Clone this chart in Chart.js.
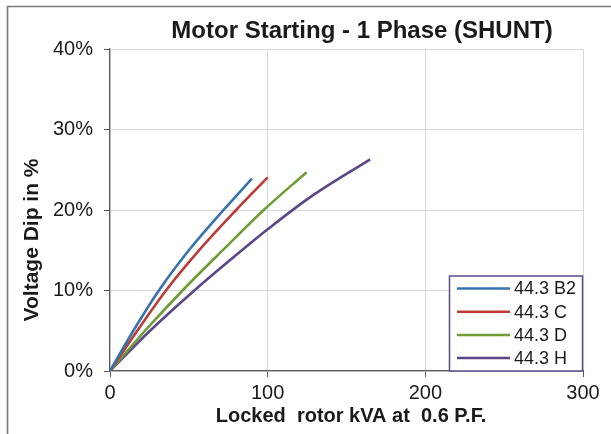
<!DOCTYPE html>
<html>
<head>
<meta charset="utf-8">
<script src="https://cdn.jsdelivr.net/npm/chart.js@4.4.1/dist/chart.umd.min.js"></script>
<style>
  html, body { margin: 0; padding: 0; background: #fff; }
  #wrap { width: 611px; height: 434px; position: relative; }
</style>
</head>
<body>
<div id="wrap"><canvas id="dipChart" width="611" height="434"></canvas></div>
<script>
// Locked rotor kVA (x) and voltage dip in % (y)
const seriesNames = ["44.3 B2", "44.3 C", "44.3 D", "44.3 H"];
const kvaB2 = [0, 14.8, 31, 50, 72, 90];
const dipB2 = [0, 5, 10, 15.0, 20, 23.9];
const kvaC = [0, 17.3, 35.5, 57, 80, 100];
const dipC = [0, 5, 10, 15.1, 20, 24.05];
const kvaD = [0, 22.2, 46, 72, 97.5, 124.7];
const dipD = [0, 5, 10, 15.1, 20, 24.7];
const kvaH = [0, 25.4, 53.5, 80, 100, 127, 165];
const dipH = [0, 5, 10, 14.4, 17.6, 21.6, 26.3];
const lineColors = ["#3473af", "#bd3a35", "#6f9d35", "#5b4787"];

const chartTitle = "Motor Starting - 1 Phase (SHUNT)";
const xTitle = "Locked  rotor kVA at  0.6 P.F.";
const yTitle = "Voltage Dip in %";

const FONT = "'Liberation Sans', Arial, sans-serif";

function toPoints(xs, ys) {
    return xs.map((x, i) => ({ x: x, y: ys[i] }));
}

const allX = [kvaB2, kvaC, kvaD, kvaH];
const allY = [dipB2, dipC, dipD, dipH];

// frame, titles and the boxed legend are drawn on top of the chart
const extras = {
    id: "extras",
    afterDraw(chart) {
        const c = chart.ctx;
        c.save();
        // outer frame (left + top only)
        c.strokeStyle = "#7a7a7a";
        c.lineWidth = 1.6;
        c.beginPath();
        c.moveTo(7.5, 434);
        c.lineTo(7.5, 6.5);
        c.lineTo(611, 6.5);
        c.stroke();

        c.fillStyle = "#1a1a1a";
        c.textAlign = "center";
        c.textBaseline = "middle";
        c.font = "bold 24px " + FONT;
        c.fillText(chartTitle, 362, 31);

        c.font = "bold 20px " + FONT;
        c.fillText(xTitle, 351, 416);

        c.save();
        c.translate(32, 240);
        c.rotate(-Math.PI / 2);
        c.font = "bold 21px " + FONT;
        c.fillText(yTitle, 0, 0);
        c.restore();

        // legend box
        const bx = 449.5, by = 276, bw = 133, bh = 95;
        c.fillStyle = "#fff";
        c.fillRect(bx, by, bw, bh);
        c.strokeStyle = "#5d4a89";
        c.lineWidth = 1.5;
        c.strokeRect(bx, by, bw, bh);
        c.font = "18px " + FONT;
        c.textAlign = "left";
        chart.data.datasets.forEach((ds, i) => {
            const yy = 288.5 + i * 23.2;
            c.strokeStyle = ds.borderColor;
            c.lineWidth = 2.5;
            c.beginPath();
            c.moveTo(457, yy);
            c.lineTo(510, yy);
            c.stroke();
            c.fillStyle = "#1a1a1a";
            c.fillText(ds.label, 514, yy + 1);
        });
        c.restore();
    }
};

const ctx = document.getElementById("dipChart").getContext("2d");
new Chart(ctx, {
    type: "line",
    data: {
        datasets: seriesNames.map((name, i) => ({
            label: name,
            data: toPoints(allX[i], allY[i]),
            borderColor: lineColors[i],
            backgroundColor: lineColors[i],
            borderWidth: 2.6,
            pointRadius: 0,
            cubicInterpolationMode: "monotone",
            fill: false
        }))
    },
    options: {
        responsive: false,
        animation: false,
        layout: { padding: { left: 0, top: 49, right: 28, bottom: 0 } },
        plugins: {
            legend: { display: false },
            title: { display: false },
            tooltip: { enabled: false }
        },
        scales: {
            x: {
                type: "linear",
                min: 0,
                max: 300,
                ticks: {
                    stepSize: 100,
                    padding: 4,
                    color: "#1a1a1a",
                    font: { family: FONT, size: 20 }
                },
                grid: { color: "#d9d9d9", tickColor: "#595959", tickLength: 6 },
                border: { color: "#595959", width: 1.2 },
                afterFit(scale) { scale.height = 63; }
            },
            y: {
                min: 0,
                max: 40,
                ticks: {
                    stepSize: 10,
                    padding: 11,
                    color: "#1a1a1a",
                    font: { family: FONT, size: 20 },
                    callback: (v) => v + "%"
                },
                grid: { color: "#d9d9d9", tickColor: "#595959", tickLength: 6 },
                border: { color: "#595959", width: 1.2 },
                afterFit(scale) { scale.width = 110; }
            }
        }
    },
    plugins: [extras]
});
</script>
</body>
</html>
